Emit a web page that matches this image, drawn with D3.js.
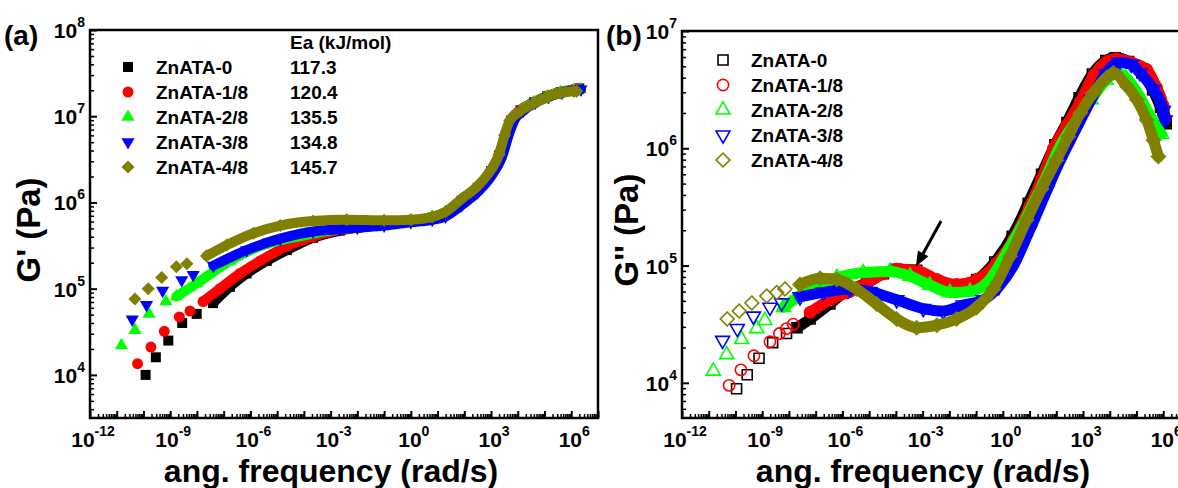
<!DOCTYPE html>
<html>
<head>
<meta charset="utf-8">
<script src="https://cdn.jsdelivr.net/npm/d3@7"></script>
<style>
  body { margin: 0; background: #fff; }
  svg { display: block; font-family: Arial, "Liberation Sans", sans-serif; font-weight: bold; }
</style>
</head>
<body>
<svg id="chart" width="1178" height="488"></svg>
<script>
const seriesNames = ['ZnATA-0', 'ZnATA-1/8', 'ZnATA-2/8', 'ZnATA-3/8', 'ZnATA-4/8'];
const eaValues = ['117.3', '120.4', '135.5', '134.8', '145.7'];
const colors = ['#000000', '#ff0000', '#00ff00', '#0000ff', '#808000'];
const xLabelExps = [-12, -9, -6, -3, 0, 3, 6];

// (a) G' master curves, [omega rad/s, G' Pa]; the first rows are the isolated low-frequency points
const storage0 = [[1.2e-10, 1.0e4], [2.9e-10, 1.6e4], [8.5e-10, 2.5e4], [2.8e-9, 4.0e4], [9.8e-9, 5.1e4],
  [4.0e-8, 6.8e4], [1.7e-7, 1.05e5], [7.2e-7, 1.5e5], [4.1e-6, 2.1e5], [2.3e-5, 2.8e5], [2.2e-4, 3.9e5], [2.2e-3, 4.7e5],
  [1e-2, 5.1e5], [0.1, 5.5e5], [1, 6.0e5], [6.3, 6.6e5], [20, 7.4e5], [79, 1.05e6], [316, 1.48e6], [1000, 2.3e6],
  [2000, 3.5e6], [3550, 6.0e6], [5600, 8.9e6], [1.26e4, 1.17e7], [4.0e4, 1.45e7], [1.26e5, 1.7e7], [4.0e5, 1.9e7],
  [1.26e6, 2.0e7], [2.0e6, 2.1e7]];
const storage1 = [[6.0e-11, 1.35e4], [1.9e-10, 2.1e4], [6.0e-10, 3.2e4], [2.2e-9, 4.7e4], [5.5e-9, 5.5e4],
  [1.7e-8, 7.1e4], [7.2e-8, 1.0e5], [4.1e-7, 1.5e5], [2.3e-6, 2.1e5], [2.3e-5, 3.1e5], [2.2e-4, 4.0e5], [2.2e-3, 4.8e5],
  [1e-2, 5.1e5], [0.1, 5.5e5], [1, 6.0e5], [6.3, 6.6e5], [20, 7.5e5], [79, 1.06e6], [316, 1.5e6], [1000, 2.35e6],
  [2000, 3.6e6], [3400, 6.0e6], [5500, 9.0e6], [1.26e4, 1.18e7], [4.0e4, 1.46e7], [1.26e5, 1.72e7], [4.0e5, 1.92e7],
  [1.26e6, 2.05e7], [2.0e6, 2.1e7]];
const storage2 = [[1.5e-11, 2.2e4], [4.8e-11, 3.3e4], [1.6e-10, 5.1e4], [6.9e-10, 7.1e4],
  [1.7e-9, 8.1e4], [9.8e-9, 1.15e5], [1.7e-7, 2.1e5], [3.0e-6, 3.2e5], [5.4e-5, 4.0e5], [2.2e-3, 4.9e5],
  [1e-2, 5.2e5], [0.1, 5.6e5], [1, 6.1e5], [6.3, 6.8e5], [20, 7.7e5], [79, 1.08e6], [316, 1.52e6], [1000, 2.3e6],
  [2200, 3.5e6], [3800, 6.0e6], [6000, 8.9e6], [1.3e4, 1.15e7], [4.0e4, 1.45e7], [1.26e5, 1.7e7], [4.0e5, 1.9e7],
  [1.26e6, 2.0e7], [2.2e6, 2.05e7]];
const storage3 = [[3.8e-11, 4.4e4], [1.3e-10, 6.5e4], [5.2e-10, 9.5e4], [2.7e-9, 1.26e5], [7.2e-9, 1.45e5],
  [4.1e-8, 1.85e5], [7.2e-7, 2.8e5], [1.3e-5, 3.8e5], [2.2e-4, 4.6e5], [2.2e-3, 4.9e5],
  [1e-2, 5.1e5], [0.1, 5.4e5], [1, 5.9e5], [6.3, 6.3e5], [20, 6.9e5], [79, 9.3e5], [316, 1.32e6], [1000, 2.0e6],
  [2500, 3.3e6], [5000, 6.6e6], [7900, 9.3e6], [1.6e4, 1.16e7], [4.5e4, 1.44e7], [1.4e5, 1.68e7], [4.5e5, 1.88e7],
  [1.3e6, 2.0e7], [2.3e6, 2.05e7]];
const storage4 = [[4.8e-11, 7.6e4], [1.5e-10, 1.0e5], [4.8e-10, 1.35e5], [1.7e-9, 1.8e5], [4.2e-9, 1.95e5],
  [2.3e-8, 2.4e5], [1.3e-7, 3.2e5], [1.3e-6, 4.4e5], [1.3e-5, 5.4e5], [2.2e-4, 6.1e5], [4.0e-3, 6.3e5],
  [0.1, 6.2e5], [1, 6.3e5], [6.3, 6.8e5], [20, 7.8e5], [79, 1.1e6], [316, 1.55e6], [1000, 2.4e6],
  [2000, 3.6e6], [3200, 6.0e6], [5000, 8.9e6], [1.26e4, 1.15e7], [4.0e4, 1.41e7], [1.26e5, 1.66e7], [4.0e5, 1.86e7],
  [1.26e6, 1.95e7], [1.6e6, 1.95e7]];
const storageSingles = [5, 5, 4, 5, 5];

// (b) G'' master curves, [omega rad/s, G'' Pa]
const loss0 = [[1.1e-10, 8.9e3], [2.75e-10, 1.17e4], [7.6e-10, 1.62e4], [2.45e-9, 2.2e4], [8.1e-9, 2.63e4],
  [2.0e-8, 2.95e4], [6.2e-8, 3.5e4], [3.4e-7, 4.7e4], [1.07e-6, 5.8e4], [8.1e-6, 7.1e4], [3.4e-5, 8.5e4],
  [1.07e-4, 9.3e4], [6.0e-4, 9.1e4], [3.4e-3, 7.4e4], [1.86e-2, 6.8e4], [0.105, 7.6e4], [0.5, 1.07e5],
  [2.24, 1.78e5], [8.9, 3.4e5], [28, 6.0e5], [89, 1.07e6], [250, 1.66e6], [710, 2.7e6], [2240, 4.3e6],
  [7100, 5.6e6], [1.58e4, 5.9e6], [5.0e4, 5.5e6], [1.58e5, 4.4e6], [4.0e5, 3.16e6], [7.9e5, 2.24e6], [1.29e6, 1.62e6]];
const loss1 = [[5.8e-11, 9.5e3], [1.6e-10, 1.29e4], [4.9e-10, 1.7e4], [1.95e-9, 2.24e4], [4.4e-9, 2.63e4],
  [8.1e-9, 2.9e4], [1.45e-8, 3.16e4],
  [6.2e-8, 4.0e4], [3.4e-7, 5.1e4], [1.9e-6, 6.0e4], [8.1e-6, 7.1e4], [3.4e-5, 8.5e4], [1.07e-4, 9.3e4],
  [6.0e-4, 9.1e4], [3.4e-3, 7.6e4], [1.86e-2, 6.9e4], [0.105, 7.6e4], [0.59, 1.05e5], [2.45, 1.66e5],
  [10.2, 3.2e5], [28, 5.4e5], [79, 1.0e6], [250, 1.58e6], [790, 2.5e6], [2500, 4.2e6], [7900, 5.5e6],
  [1.78e4, 5.8e6], [6.3e4, 5.4e6], [2.4e5, 4.7e6], [5.6e5, 3.3e6], [1.0e6, 2.3e6], [1.2e6, 1.8e6]];
const loss2 = [[1.48e-11, 1.26e4], [4.7e-11, 1.74e4], [1.7e-10, 2.34e4], [6.2e-10, 2.9e4], [1.26e-9, 3.4e4],
  [6.2e-9, 4.4e4], [6.2e-8, 6.3e4], [6.2e-7, 7.9e4], [6.0e-6, 8.7e4], [6.0e-5, 8.9e4], [3.4e-4, 8.1e4],
  [1.86e-3, 6.8e4], [1.05e-2, 5.9e4], [5.9e-2, 6.0e4], [0.33, 7.6e4], [1.38, 1.29e5], [4.4, 2.04e5],
  [13.8, 3.4e5], [40, 5.6e5], [126, 1.0e6], [500, 1.66e6], [2000, 2.6e6], [7100, 3.8e6], [1.58e4, 4.4e6],
  [4.0e4, 4.0e6], [1.26e5, 2.8e6], [2.8e5, 2.0e6], [7.1e5, 1.41e6], [8.7e5, 1.32e6]];
const loss3 = [[3.3e-11, 2.3e4], [1.17e-10, 2.9e4], [4.7e-10, 3.7e4], [1.95e-9, 4.4e4], [5.4e-9, 4.8e4],
  [2.6e-8, 5.4e4], [1.9e-7, 5.9e4], [1.9e-6, 6.3e4], [1.07e-5, 6.0e4], [1.07e-4, 5.1e4], [1.05e-3, 4.3e4],
  [5.9e-3, 4.1e4], [3.3e-2, 4.6e4], [0.186, 5.1e4], [0.7, 6.6e4], [2.5, 1.0e5], [10, 2.0e5], [45, 4.4e5],
  [130, 7.6e5], [500, 1.4e6], [2000, 2.6e6], [7000, 4.3e6], [2.24e4, 5.4e6], [6.3e4, 5.2e6], [1.35e5, 4.4e6],
  [4.3e5, 3.16e6], [1.0e6, 2.1e6], [1.17e6, 1.74e6]];
const loss4 = [[4.9e-11, 3.5e4], [1.38e-10, 4.1e4], [4.1e-10, 4.8e4], [1.48e-9, 5.5e4], [3.5e-9, 5.9e4], [7.1e-9, 6.3e4],
  [2.6e-8, 6.9e4], [1.45e-7, 7.8e4], [6.2e-7, 7.6e4], [3.4e-6, 6.3e4], [1.9e-5, 4.7e4], [1.07e-4, 3.5e4],
  [6.0e-4, 2.95e4], [3.4e-3, 3.1e4], [1.86e-2, 3.5e4], [0.105, 4.4e4], [0.44, 6.3e4], [1.86, 1.2e5],
  [7.8, 2.45e5], [28, 4.5e5], [100, 7.9e5], [280, 1.26e6], [790, 2.0e6], [2400, 2.95e6], [7600, 4.0e6],
  [1.35e4, 4.4e6], [4.3e4, 3.4e6], [1.02e5, 2.6e6], [2.4e5, 1.74e6], [4.3e5, 1.17e6], [6.6e5, 8.5e5]];
const lossSingles = [5, 7, 5, 5, 6];

// arrow in (b), from / to in data units
const arrowFrom = [4.9e-3, 2.4e5];
const arrowTo = [5.6e-4, 9.8e4];

const svg = d3.select('#chart');
svg.append('rect').attr('width', 1178).attr('height', 488).attr('fill', '#fff');

const shapes = [d3.symbolSquare, d3.symbolCircle, d3.symbolTriangle, d3.symbolTriangle, d3.symbolSquare];
const turns = [0, 0, 0, 180, 45];

function decadeLabel(sel, exp) {
  sel.append('tspan').text('10');
  sel.append('tspan').attr('font-size', 14).attr('dy', -11).text(exp);
}

function drawPanel(p) {
  const x = d3.scaleLog().domain([1e-12, 1e7]).range([p.left, p.left + p.width]);
  const y = d3.scaleLog().domain(p.yDomain).range([p.top + p.height, p.top]);
  const g = svg.append('g');
  const line = d3.line().x(d => x(d[0])).y(d => y(d[1])).curve(d3.curveMonotoneX);

  // series: dense part drawn as a thick band, every point as a marker
  p.data.forEach((pts, i) => {
    g.append('path')
      .datum(pts.slice(p.singles[i]))
      .attr('d', line)
      .attr('fill', 'none')
      .attr('stroke', colors[i])
      .attr('stroke-width', p.band)
      .attr('stroke-linecap', 'round')
      .attr('stroke-linejoin', 'round');
    g.selectAll(null)
      .data(pts)
      .enter().append('path')
      .attr('transform', d => 'translate(' + x(d[0]) + ',' + y(d[1]) + ') rotate(' + turns[i] + ')')
      .attr('d', d3.symbol(shapes[i], p.sizes[i]))
      .attr('fill', p.open ? 'none' : colors[i])
      .attr('stroke', p.open ? colors[i] : 'none')
      .attr('stroke-width', 1.6);
  });

  // ticks (inside)
  const xMajor = d3.range(-12, 8).map(e => Math.pow(10, e));
  const xMinor = [];
  d3.range(-12, 7).forEach(e => d3.range(2, 10).forEach(k => xMinor.push(k * Math.pow(10, e))));
  const yLo = Math.log10(p.yDomain[0]), yHi = Math.log10(p.yDomain[1]);
  const yMajor = d3.range(Math.ceil(yLo), Math.floor(yHi) + 1).map(e => Math.pow(10, e));
  const yMinor = [];
  d3.range(Math.floor(yLo), Math.ceil(yHi)).forEach(e => d3.range(2, 10).forEach(k => {
    const v = k * Math.pow(10, e);
    if (v > p.yDomain[0] && v < p.yDomain[1]) yMinor.push(v);
  }));

  const bottom = p.top + p.height;
  [[xMajor, -7, 2], [xMinor, -4, 1.5]].forEach(([vals, size, w]) => {
    const ax = g.append('g').attr('transform', 'translate(0,' + bottom + ')')
      .call(d3.axisBottom(x).tickValues(vals).tickSize(size).tickFormat(''));
    ax.select('.domain').remove();
    ax.selectAll('line').attr('stroke-width', w);
  });
  [[yMajor, -7, 2], [yMinor, -4, 1.5]].forEach(([vals, size, w]) => {
    const ax = g.append('g').attr('transform', 'translate(' + p.left + ',0)')
      .call(d3.axisLeft(y).tickValues(vals).tickSize(size).tickFormat(''));
    ax.select('.domain').remove();
    ax.selectAll('line').attr('stroke-width', w);
  });

  // frame
  g.append('rect')
    .attr('x', p.left).attr('y', p.top)
    .attr('width', p.width).attr('height', p.height)
    .attr('fill', 'none').attr('stroke', '#000').attr('stroke-width', 2.5);

  // tick labels
  xLabelExps.forEach(e => {
    g.append('text').attr('x', x(Math.pow(10, e)) + 3).attr('y', bottom + 29)
      .attr('text-anchor', 'middle').attr('font-size', 21)
      .call(decadeLabel, e);
  });
  yMajor.forEach(v => {
    g.append('text').attr('x', p.left - 5).attr('y', y(v) + 8)
      .attr('text-anchor', 'end').attr('font-size', 21)
      .call(decadeLabel, Math.round(Math.log10(v)));
  });

  // titles
  g.append('text').attr('x', p.left + 241).attr('y', 482)
    .attr('text-anchor', 'middle').attr('font-size', 32)
    .text('ang. frequency (rad/s)');
  g.append('text')
    .attr('transform', 'translate(' + (p.left - p.titleGap) + ',' + 230 + ') rotate(-90)')
    .attr('text-anchor', 'middle').attr('font-size', 33)
    .text(p.yTitle);
  g.append('text').attr('x', p.tagX).attr('y', 45).attr('font-size', 28).text(p.tag);

  // legend
  seriesNames.forEach((name, i) => {
    const ly = p.legendY + i * 25;
    g.append('path')
      .attr('transform', 'translate(' + p.legendX + ',' + ly + ') rotate(' + turns[i] + ')')
      .attr('d', d3.symbol(shapes[i], p.sizes[i]))
      .attr('fill', p.open ? 'none' : colors[i])
      .attr('stroke', p.open ? colors[i] : 'none')
      .attr('stroke-width', 1.6);
    g.append('text').attr('x', p.legendX + 28).attr('y', ly + 7)
      .attr('font-size', 19).text(name);
    if (p.ea) {
      g.append('text').attr('x', p.ea).attr('y', ly + 7)
        .attr('font-size', 19).text(eaValues[i]);
    }
  });
  if (p.ea) {
    g.append('text').attr('x', p.ea).attr('y', 49).attr('font-size', 19).text('Ea (kJ/mol)');
  }

  return { x, y, g };
}

drawPanel({
  left: 90, top: 30, width: 508, height: 388, yDomain: [Math.pow(10, 3.5), 1e8],
  data: [storage0, storage1, storage2, storage3, storage4], singles: storageSingles,
  sizes: [100, 95, 75, 75, 85], band: 10, open: false, titleGap: 50,
  yTitle: "G' (Pa)", tag: '(a)', tagX: 4, legendX: 128, legendY: 67, ea: 290
});

const b = drawPanel({
  left: 682, top: 31, width: 508, height: 387, yDomain: [Math.pow(10, 3.7), 1e7],
  data: [loss0, loss1, loss2, loss3, loss4], singles: lossSingles,
  sizes: [100, 100, 85, 85, 95], band: 11, open: true, titleGap: 44,
  yTitle: "G'' (Pa)", tag: '(b)', tagX: 606, legendX: 723, legendY: 60, ea: null
});

// arrow
const ax0 = b.x(arrowFrom[0]), ay0 = b.y(arrowFrom[1]);
const ax1 = b.x(arrowTo[0]), ay1 = b.y(arrowTo[1]);
const ang = Math.atan2(ay1 - ay0, ax1 - ax0);
const headLen = 15, headW = 6;
const bx = ax1 - headLen * Math.cos(ang), by = ay1 - headLen * Math.sin(ang);
b.g.append('line').attr('x1', ax0).attr('y1', ay0).attr('x2', bx).attr('y2', by)
  .attr('stroke', '#000').attr('stroke-width', 3);
b.g.append('path')
  .attr('d', 'M' + ax1 + ',' + ay1 +
    'L' + (bx + headW * Math.sin(ang)) + ',' + (by - headW * Math.cos(ang)) +
    'L' + (bx - headW * Math.sin(ang)) + ',' + (by + headW * Math.cos(ang)) + 'Z')
  .attr('fill', '#000');
</script>
</body>
</html>
